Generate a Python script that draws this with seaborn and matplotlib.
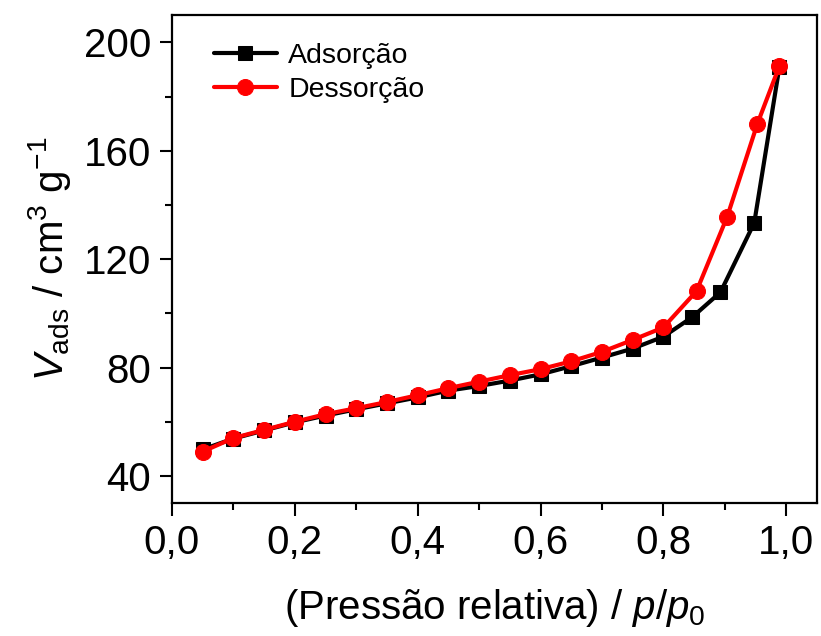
"""BET isotherm: adsorption / desorption of N2."""

import matplotlib

matplotlib.use("Agg")
import matplotlib.pyplot as plt
import seaborn as sns
from matplotlib.ticker import FuncFormatter, MultipleLocator

# Data
p_ads = [0.05, 0.10, 0.15, 0.20, 0.25, 0.30, 0.35, 0.40, 0.45, 0.50,
         0.55, 0.60, 0.65, 0.70, 0.75, 0.80, 0.847, 0.893, 0.948, 0.989]
v_ads = [49.8, 53.8, 56.8, 59.8, 62.3, 64.6, 66.8, 69.0, 71.5, 73.2,
         75.2, 77.5, 80.5, 83.7, 87.0, 91.4, 98.6, 107.8, 133.4, 191.0]

p_des = [0.05, 0.10, 0.15, 0.20, 0.25, 0.30, 0.35, 0.40, 0.45, 0.50,
         0.55, 0.60, 0.65, 0.70, 0.75, 0.80, 0.854, 0.904, 0.953, 0.989]
v_des = [49.0, 54.0, 57.0, 60.0, 62.8, 65.0, 67.3, 69.8, 72.4, 74.8,
         77.2, 79.4, 82.3, 85.8, 90.2, 94.8, 108.2, 135.7, 169.9, 191.3]

sns.set_style("ticks")
plt.rcParams["font.family"] = ["Liberation Sans", "DejaVu Sans"]
plt.rcParams["mathtext.fontset"] = "custom"
plt.rcParams["mathtext.rm"] = "Liberation Sans"
plt.rcParams["mathtext.it"] = "Liberation Sans:italic"
plt.rcParams["text.color"] = "black"
plt.rcParams["axes.labelcolor"] = "black"
plt.rcParams["xtick.color"] = "black"
plt.rcParams["ytick.color"] = "black"

fig = plt.figure(figsize=(8.21, 6.36), dpi=100)
ax = fig.add_axes([0.2095, 0.209, 0.7855, 0.767])

sns.lineplot(x=p_ads, y=v_ads, sort=False, color="black", marker="s",
             markersize=10, markeredgecolor="black",
             label="Adsorção", ax=ax)
sns.lineplot(x=p_des, y=v_des, sort=False, color="#ff0000", marker="o",
             markersize=11.5, markeredgecolor="#ff0000",
             label="Dessorção", ax=ax)
for ln in ax.get_lines():
    ln.set_linewidth(3)

ax.set_xlim(0, 1.05)
ax.set_ylim(30, 210)
ax.xaxis.set_major_locator(MultipleLocator(0.2))
ax.xaxis.set_minor_locator(MultipleLocator(0.1))
ax.yaxis.set_major_locator(MultipleLocator(40))
ax.yaxis.set_minor_locator(MultipleLocator(20))
ax.xaxis.set_major_formatter(FuncFormatter(lambda v, _: f"{v:.1f}".replace(".", ",")))

for s in ax.spines.values():
    s.set_linewidth(1.6)
    s.set_color("black")
ax.tick_params(which="major", length=9, width=1.5, labelsize=29, direction="out", pad=6)
ax.tick_params(which="minor", length=5, width=1.5, direction="out")

ax.set_xlabel("(Pressão relativa) / $p$/$p_0$", fontsize=29, labelpad=18)
ax.set_ylabel("$V_{\\mathrm{ads}}$ / cm$^3$ g$^{-1}$", fontsize=29, labelpad=8)

leg = ax.legend(loc="upper left", frameon=False, fontsize=20.5, handlelength=2.2,
                handletextpad=0.4, labelspacing=0.3, borderaxespad=0.4,
                bbox_to_anchor=(0.03, 0.99))
for ln in leg.get_lines():
    ln.set_linewidth(3)

fig.savefig("out.png", dpi=100)
plt.close()
